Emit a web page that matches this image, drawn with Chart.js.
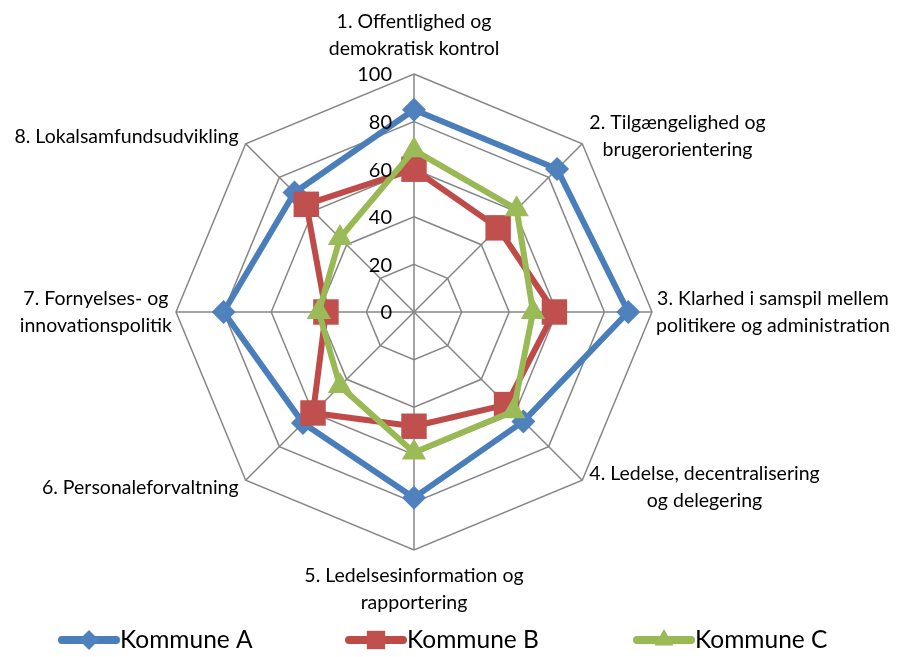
<!DOCTYPE html>
<html>
<head>
<meta charset="utf-8">
<script src="https://cdn.jsdelivr.net/npm/chart.js@4/dist/chart.umd.min.js"></script>
<style>
  html, body { margin: 0; padding: 0; background: #fff; }
  #wrap { width: 903px; height: 657px; }
</style>
</head>
<body>
<div id="wrap"><canvas id="radar" width="903" height="657"></canvas></div>
<script>
// categories (multi-line like the Excel labels)
const categories = [
    ['1. Offentlighed og', 'demokratisk kontrol'],
    ['2. Tilgængelighed og', 'brugerorientering'],
    ['3. Klarhed i samspil mellem', 'politikere og administration'],
    ['4. Ledelse, decentralisering', 'og delegering'],
    ['5. Ledelsesinformation og', 'rapportering'],
    ['6. Personaleforvaltning'],
    ['7. Fornyelses- og', 'innovationspolitik'],
    ['8. Lokalsamfundsudvikling']
];

const seriesNames = ['Kommune A', 'Kommune B', 'Kommune C'];
const kommuneA = [85, 85, 90, 65, 78, 66, 80, 71];
const kommuneB = [60, 50, 59, 55, 48, 60, 37, 64];
const kommuneC = [68, 61, 50, 59, 59, 44, 40, 44];
const tickValues = [0, 20, 40, 60, 80, 100];

const FONT = 'Lato, "Open Sans", sans-serif';
const gridColor = '#868686';

// extra distance of each category label from the outer ring
const labelGap = [12, 10, 4, 10, 12, 10, 4, 10];

const excelLabels = {
    id: 'excelLabels',
    afterDraw(chart) {
        const scale = chart.scales.r;
        const ctx = chart.ctx;
        ctx.save();
        ctx.fillStyle = '#000';

        // tick numbers left of the vertical axis
        ctx.font = '20px ' + FONT;
        ctx.textAlign = 'right';
        ctx.textBaseline = 'middle';
        tickValues.forEach(v => {
            const d = scale.getDistanceFromCenterForValue(v);
            ctx.fillText(String(v), scale.xCenter - 22, scale.yCenter - d + 1);
        });

        // category labels
        const lineH = 27;
        ctx.font = '19.5px ' + FONT;
        ctx.textBaseline = 'middle';
        ctx.textAlign = 'center';
        categories.forEach((lines, i) => {
            const p = scale.getPointPosition(i, scale.drawingArea + labelGap[i]);
            const dx = p.x - scale.xCenter;
            const dy = p.y - scale.yCenter;
            const w = Math.max(...lines.map(l => ctx.measureText(l).width));
            const h = lines.length * lineH;
            let left, top;
            if (Math.abs(dx) < 2) left = p.x - w / 2;
            else if (dx > 0) left = p.x;
            else left = p.x - w;
            if (Math.abs(dy) < 2) top = p.y - h / 2;
            else if (Math.abs(dx) < 2) top = dy < 0 ? p.y - h : p.y;
            else top = p.y - h / 2;
            lines.forEach((l, k) => {
                ctx.fillText(l, left + w / 2, top + lineH * k + lineH / 2);
            });
        });

        // legend: line + marker + text
        const legendY = 640;
        const legendX = [60, 347, 635];
        const legendRadius = [10, 13, 11];
        chart.data.datasets.forEach((ds, i) => {
            const x0 = legendX[i];
            ctx.strokeStyle = ds.borderColor;
            ctx.lineWidth = 8;
            ctx.lineCap = 'round';
            ctx.beginPath();
            ctx.moveTo(x0 + 2, legendY);
            ctx.lineTo(x0 + 56, legendY);
            ctx.stroke();
            ctx.fillStyle = ds.pointBackgroundColor;
            ctx.strokeStyle = ds.pointBackgroundColor;
            Chart.helpers.drawPoint(ctx, {
                pointStyle: ds.pointStyle,
                radius: legendRadius[i],
                borderWidth: 0,
                rotation: 0
            }, x0 + 29, legendY);
            ctx.fillStyle = '#000';
            ctx.font = '24.5px ' + FONT;
            ctx.textAlign = 'left';
            ctx.fillText(ds.label, x0 + 60, legendY);
        });
        ctx.restore();
    }
};

new Chart(document.getElementById('radar').getContext('2d'), {
    type: 'radar',
    data: {
        labels: categories,
        datasets: [
            {
                label: seriesNames[0],
                data: kommuneA,
                borderColor: '#4A7EBB',
                pointBackgroundColor: '#4F81BD',
                pointBorderColor: '#4F81BD',
                pointStyle: 'rectRot',
                pointRadius: 12,
                order: 2
            },
            {
                label: seriesNames[1],
                data: kommuneB,
                borderColor: '#BE4B48',
                pointBackgroundColor: '#C0504D',
                pointBorderColor: '#C0504D',
                pointStyle: 'rect',
                pointRadius: 18,
                order: 1
            },
            {
                label: seriesNames[2],
                data: kommuneC,
                borderColor: '#98B954',
                pointBackgroundColor: '#9BBB59',
                pointBorderColor: '#9BBB59',
                pointStyle: 'triangle',
                pointRadius: 14,
                order: 0
            }
        ].map(ds => Object.assign(ds, {
            fill: false,
            borderWidth: 6,
            borderJoinStyle: 'round',
            pointBorderWidth: 0,
            pointHoverRadius: ds.pointRadius,
            tension: 0
        }))
    },
    options: {
        responsive: false,
        animation: false,
        events: [],
        layout: {
            padding: { left: 176, right: 251, top: 74, bottom: 107 }
        },
        plugins: {
            legend: { display: false },
            tooltip: { enabled: false }
        },
        scales: {
            r: {
                min: 0,
                max: 100,
                ticks: { stepSize: 20, display: false },
                pointLabels: { display: false },
                grid: { color: gridColor, lineWidth: 1.5 },
                angleLines: { color: gridColor, lineWidth: 1.5 }
            }
        }
    },
    plugins: [excelLabels]
});
</script>
</body>
</html>
